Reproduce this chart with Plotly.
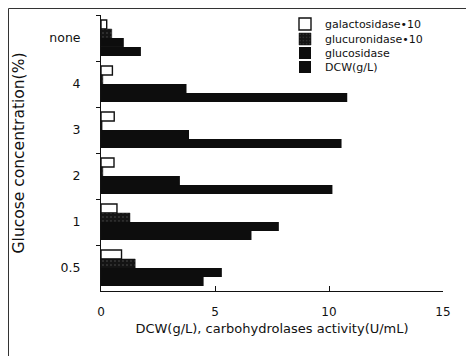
import plotly.graph_objects as go

categories = ["none", "4", "3", "2", "1", "0.5"]
galactosidase = [0.25, 0.5, 0.58, 0.57, 0.7, 0.9]
glucuronidase = [0.47, 0.08, 0.05, 0.08, 1.27, 1.5]
glucosidase = [1.0, 3.75, 3.86, 3.46, 7.8, 5.3]
dcw = [1.75, 10.8, 10.55, 10.15, 6.6, 4.5]
x_ticks = [0, 5, 10, 15]

series = [
    ("galactosidase\u202210", galactosidase, dict(color="white", line=dict(color="#111", width=1.4))),
    ("glucuronidase\u202210", glucuronidase, dict(color="#141414", line=dict(color="#111", width=0.5),
                                                 pattern=dict(shape=".", fgcolor="#888888", size=4, solidity=0.12))),
    ("glucosidase", glucosidase, dict(color="#0d0d0d", line=dict(width=0))),
    ("DCW(g/L)", dcw, dict(color="#0d0d0d", line=dict(width=0))),
]

# page body adds an 8px offset; screen coordinate = figure coordinate + 8
OFF = 8
W, H = 474 - OFF, 356 - OFF
L, T = 101 - OFF, 15 - OFF
R = W - (443 - OFF)
B = H - (291 - OFF)
pw, ph = W - L - R, H - T - B

def px(xs):
    return (xs - OFF - L) / pw

def py(ys):
    return (H - B - (ys - OFF)) / ph

legend_rows = [24, 39, 53, 67]
legend_names = ["legend", "legend2", "legend3", "legend4"]

fig = go.Figure()
for (name, vals, marker), lg in zip(series, legend_names):
    fig.add_trace(go.Bar(y=categories, x=vals, name=name, orientation="h", marker=marker, legend=lg))

legends = {}
for lg, row in zip(legend_names, legend_rows):
    legends[lg] = dict(x=px(285), y=py(row), xanchor="left", yanchor="middle",
                       bgcolor="rgba(0,0,0,0)", font=dict(size=11), itemwidth=30)

fig.update_layout(
    width=W, height=H,
    margin=dict(l=L, r=R, t=T, b=B, pad=0, autoexpand=False),
    paper_bgcolor="white", plot_bgcolor="white",
    barmode="group", bargap=0.22, bargroupgap=0,
    font=dict(family="DejaVu Sans", color="#111", size=12),
    showlegend=True,
    **legends,
    xaxis=dict(range=[0, 15], tickvals=x_ticks, ticktext=[str(v) for v in x_ticks],
               automargin=False,
               showgrid=False, zeroline=False, showline=True, linecolor="#111", linewidth=1,
               ticks="inside", ticklen=5, tickcolor="#111", ticklabelstandoff=10,
               tickfont=dict(size=12),
               title=dict(text="DCW(g/L), carbohydrolases activity(U/mL)", font=dict(size=13), standoff=5)),
    yaxis=dict(categoryorder="array", categoryarray=categories, autorange="reversed",
               automargin=False,
               showgrid=False, zeroline=False, showline=True, linecolor="#111", linewidth=1,
               ticks="outside", ticklen=4, tickcolor="#111", tickson="boundaries",
               ticklabelstandoff=17, tickfont=dict(size=12.5),
               title=dict(text="Glucose concentration(%)", font=dict(size=15.5), standoff=20)),
    shapes=[dict(type="rect", xref="paper", yref="paper",
                 x0=px(8.5), x1=px(468), y0=py(370), y1=py(8.5),
                 line=dict(color="#333", width=1), layer="below")],
)

fig.write_html("out.html")
